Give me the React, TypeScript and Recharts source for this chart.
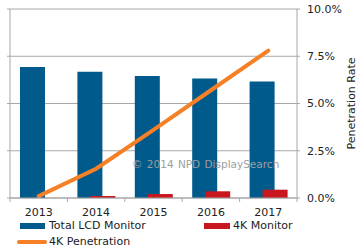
import React from "react";
import {
  ComposedChart,
  Bar,
  Line,
  XAxis,
  YAxis,
  CartesianGrid,
} from "recharts";

// shipments in millions of units, penetration in percent
const years = ["2013", "2014", "2015", "2016", "2017"];
const totalLcdMonitor = [138.5, 133.5, 129, 126.5, 123.3];
const fourKMonitor = [0.1, 2.1, 4.2, 7.1, 8.8];
const fourKPenetration = [0.1, 1.55, 3.6, 5.7, 7.8];
const unitTicks = [0, 50, 100, 150, 200];
const pctTicks = [0, 2.5, 5, 7.5, 10];

const BLUE = "#005a8c";
const RED = "#c8171e";
const ORANGE = "#f58025";
const GRID = "#a8a8a8";
const FONT = "'DejaVu Sans', Verdana, sans-serif";

const W = 359;
const H = 250;
const PLOT_LEFT = 10;
const PLOT_RIGHT = 297;
const BAND = (PLOT_RIGHT - PLOT_LEFT) / years.length;

const data = years.map((year, i) => ({
  year,
  lcd: totalLcdMonitor[i],
  fourK: fourKMonitor[i],
  penetration: fourKPenetration[i],
}));

// category label plus tick marks on the band edges
function YearTick(props: any) {
  const { x, y, payload, index } = props;
  const axisY = y - 10;
  return (
    <g>
      <line x1={x - BAND / 2} x2={x - BAND / 2} y1={axisY} y2={axisY + 4} stroke={GRID} />
      {index === years.length - 1 && (
        <line x1={x + BAND / 2} x2={x + BAND / 2} y1={axisY} y2={axisY + 4} stroke={GRID} />
      )}
      <text x={x} y={y} dy="0.71em" textAnchor="middle" fontSize={11} fill="#222" fontFamily={FONT}>
        {payload.value}
      </text>
    </g>
  );
}

function RateLabel(props: any) {
  const { viewBox } = props;
  const cx = viewBox.x + 54;
  const cy = viewBox.y + viewBox.height / 2;
  return (
    <text
      x={cx}
      y={cy}
      transform={`rotate(-90 ${cx} ${cy})`}
      textAnchor="middle"
      dominantBaseline="central"
      fontSize={11}
      fill="#222"
      fontFamily={FONT}
    >
      Penetration Rate
    </text>
  );
}

const legendText: React.CSSProperties = {
  position: "absolute",
  fontSize: 11,
  color: "#222",
  lineHeight: "12px",
};

function ChartLegend() {
  return (
    <div style={{ position: "absolute", left: 0, top: 0, width: W, height: H, fontFamily: FONT }}>
      <div style={{ position: "absolute", left: 20, top: 223, width: 25, height: 6, background: BLUE }} />
      <div style={{ ...legendText, left: 49, top: 220 }}>Total LCD Monitor</div>
      <div style={{ position: "absolute", left: 204, top: 223, width: 26, height: 6, background: RED }} />
      <div style={{ ...legendText, left: 233, top: 220 }}>4K Monitor</div>
      <div
        style={{
          position: "absolute",
          left: 17,
          top: 240,
          width: 30,
          height: 4,
          borderRadius: 2,
          background: ORANGE,
        }}
      />
      <div style={{ ...legendText, left: 49, top: 236 }}>4K Penetration</div>
    </div>
  );
}

export default function App() {
  return (
    <div style={{ position: "absolute", left: 0, top: 0, width: W, height: H, background: "#fff" }}>
      <div style={{ position: "absolute", left: 0, top: 0 }}>
        <ComposedChart
          width={W}
          height={H}
          data={data}
          margin={{ top: 9, right: 0, bottom: 22, left: 0 }}
          barSize={25}
          barGap={-12}
          style={{ fontFamily: FONT }}
        >
          <CartesianGrid yAxisId="units" vertical={false} stroke={GRID} />
          <XAxis
            dataKey="year"
            height={30}
            stroke={GRID}
            tickLine={false}
            tickSize={4}
            tickMargin={6}
            interval={0}
            tick={<YearTick />}
          />
          <YAxis
            yAxisId="units"
            orientation="left"
            width={10}
            domain={[0, 200]}
            ticks={unitTicks}
            stroke={GRID}
            tickSize={3}
            tick={() => <g />}
          />
          <YAxis
            yAxisId="pct"
            orientation="right"
            width={62}
            domain={[0, 10]}
            ticks={pctTicks}
            stroke={GRID}
            tickSize={3}
            tickMargin={7}
            tick={{ fontSize: 11, fill: "#222", fontFamily: FONT }}
            tickFormatter={(v: number) => `${v.toFixed(1)}%`}
            label={<RateLabel />}
          />
          <Bar yAxisId="units" dataKey="lcd" fill={BLUE} isAnimationActive={false} />
          <Bar yAxisId="units" dataKey="fourK" fill={RED} isAnimationActive={false} />
          <Line
            yAxisId="pct"
            dataKey="penetration"
            type="linear"
            stroke={ORANGE}
            strokeWidth={4}
            strokeLinecap="round"
            dot={false}
            activeDot={false}
            isAnimationActive={false}
          />
        </ComposedChart>
      </div>
      {/* copyright watermark sits above the bars */}
      <div
        style={{
          position: "absolute",
          left: 132,
          top: 158,
          fontSize: 10.5,
          color: "#9e9e9e",
          fontFamily: FONT,
          whiteSpace: "nowrap",
          wordSpacing: 1,
          pointerEvents: "none",
        }}
      >
        © 2014 NPD DisplaySearch
      </div>
      <ChartLegend />
    </div>
  );
}
